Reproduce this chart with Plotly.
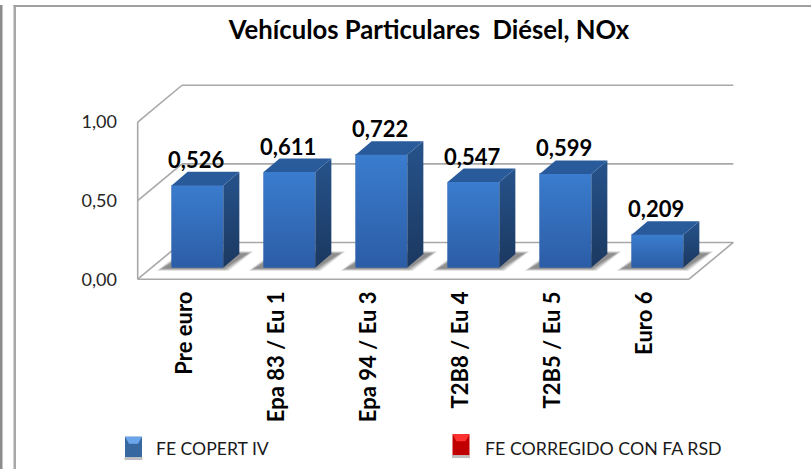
import plotly.graph_objects as go

categories = ["Pre euro", "Epa 83 / Eu 1", "Epa 94 / Eu 3", "T2B8 / Eu 4", "T2B5 / Eu 5", "Euro 6"]
values = [0.526, 0.611, 0.722, 0.547, 0.599, 0.209]
value_labels = ["0,526", "0,611", "0,722", "0,547", "0,599", "0,209"]
y_ticks = [0.0, 0.5, 1.0]
y_tick_labels = ["0,00", "0,50", "1,00"]
series_names = ["FE COPERT IV", "FE CORREGIDO CON FA RSD"]

W, H = 811, 472
FONT = "Lato"
X_PX = 92.0          # pixels per category
Y_PX = 158.2         # pixels per unit on the front plane
Y2_PX = 157.1        # pixels per unit on the bar plane
LEFT, RIGHT, TOP, BOTTOM = 130.0, 745.0, 70.0, 288.0
X0, Y0 = 185.0, 281.0        # front plane origin
X20, Y20 = 197.5, 269.2      # bar plane origin
BAR_W = 51.7 / X_PX
DX, DY = 16 / X_PX, 13.6 / Y2_PX      # bar depth
BX, BY = 44.3 / X_PX, 37 / Y_PX       # wall depth
GRID = "#a8a8a8"

x_front_l = (137.7 - X0) / X_PX
x_front_r = (689 - X0) / X_PX

fig = go.Figure()
idx = list(range(len(categories)))

# front faces
fig.add_trace(go.Bar(x=idx, y=values, width=BAR_W, xaxis="x2", yaxis="y2",
                     marker=dict(color="#3268ae", line=dict(color="#2c5a96", width=0.5)),
                     name=series_names[0], showlegend=False, hoverinfo="skip"))

def face(xs, ys, top, bottom):
    fig.add_trace(go.Scatter(x=xs, y=ys, xaxis="x2", yaxis="y2", mode="lines", fill="toself",
                             line=dict(width=0), hoverinfo="skip", showlegend=False,
                             fillgradient=dict(type="vertical", colorscale=[[0, bottom], [1, top]])))

for i, v in zip(idx, values):
    l, r = i - BAR_W / 2, i + BAR_W / 2
    face([l, r, r, l, l], [0, 0, v, v, 0], "#3a7cce", "#2c5da6")
    face([r, r + DX, r + DX, r, r], [0, DY, v + DY, v, 0], "#26538b", "#1b3860")
    face([l, r, r + DX, l + DX, l], [v, v, v + DY, v + DY, v], "#2a5c9c", "#28599a")

shapes = []
# walls and floor, front plane coordinates
for t in y_ticks:
    shapes.append(dict(type="line", xref="x", yref="y", x0=x_front_l, y0=t, x1=x_front_l + BX, y1=t + BY,
                       line=dict(color=GRID, width=1.6), layer="below"))
    shapes.append(dict(type="line", xref="x", yref="y", x0=x_front_l + BX, y0=t + BY, x1=x_front_r + BX, y1=t + BY,
                       line=dict(color=GRID, width=1.6), layer="below"))
shapes.append(dict(type="line", xref="x", yref="y", x0=x_front_l, y0=0, x1=x_front_l, y1=1,
                   line=dict(color=GRID, width=1.6), layer="below"))
shapes.append(dict(type="line", xref="x", yref="y", x0=x_front_l, y0=0, x1=x_front_r, y1=0,
                   line=dict(color=GRID, width=1.6), layer="below"))
shapes.append(dict(type="line", xref="x", yref="y", x0=x_front_r, y0=0, x1=x_front_r + BX, y1=BY,
                   line=dict(color=GRID, width=1.6), layer="below"))

# bar shadows on the floor
for i in idx:
    for grow, op in ((3.5, 0.14), (2, 0.2), (0.5, 0.28), (-1.5, 0.35)):
        gy = grow / Y2_PX
        pts = [(i + (-37.5 - grow) / X_PX, -0.012 - gy * 0.4),
               (i + (28 + grow) / X_PX, -0.012 - gy * 0.4),
               (i + (52.5 + grow) / X_PX, 0.095 + gy * 0.4),
               (i + (-12 - grow) / X_PX, 0.095 + gy * 0.4)]
        path = "M " + " L ".join(f"{a},{b}" for a, b in pts) + " Z"
        shapes.append(dict(type="path", xref="x2", yref="y2", path=path,
                           fillcolor=f"rgba(90,90,90,{op})", line=dict(width=0), layer="below"))

def px(x): return x / W
def py(y): return 1 - y / H

# page frame
shapes.append(dict(type="rect", xref="paper", yref="paper", x0=0, x1=px(2.5), y0=0, y1=py(5),
                   fillcolor="#8c8c8c", line=dict(width=0), layer="below"))
shapes.append(dict(type="rect", xref="paper", yref="paper", x0=px(13.5), x1=px(16), y0=0, y1=py(5),
                   fillcolor="#a8a8a8", line=dict(width=0), layer="below"))
shapes.append(dict(type="rect", xref="paper", yref="paper", x0=px(13.5), x1=1, y0=py(7), y1=py(5),
                   fillcolor="#a0a0a0", line=dict(width=0), layer="below"))

# legend keys
def key(x, color, light, top, bot):
    shapes.append(dict(type="rect", xref="paper", yref="paper", x0=px(x - 0.5), x1=px(x + 17.5),
                       y0=py(bot + 3), y1=py(bot), fillcolor="#c0c0c0", line=dict(width=0)))
    shapes.append(dict(type="rect", xref="paper", yref="paper", x0=px(x), x1=px(x + 17),
                       y0=py(bot), y1=py(top), fillcolor=color, line=dict(width=0)))
    path = f"M {px(x)},{py(top)} L {px(x + 17)},{py(top)} L {px(x + 13)},{py(top + 7)} L {px(x + 4)},{py(top + 7)} Z"
    shapes.append(dict(type="path", xref="paper", yref="paper", path=path, fillcolor=light, line=dict(width=0)))

key(125, "#37689f", "#6ba6ec", 439.5, 460)
key(452.5, "#c00000", "#ff3030", 437, 458)

annotations = []
for i, v, t in zip(idx, values, value_labels):
    annotations.append(dict(x=i, y=v, xref="x2", yref="y2", text=f"<b>{t}</b>", showarrow=False,
                            xshift=-2, yshift=26, font=dict(family=FONT, size=22, color="#000000")))
annotations.append(dict(x=px(154), y=py(451), xref="paper", yref="paper", xanchor="left", yanchor="middle",
                        text=series_names[0], showarrow=False, font=dict(family=FONT, size=17.6, color="#1a1a1a")))
annotations.append(dict(x=px(483), y=py(451), xref="paper", yref="paper", xanchor="left", yanchor="middle",
                        text=series_names[1], showarrow=False, font=dict(family=FONT, size=17.8, color="#1a1a1a")))

fig.update_layout(
    width=W, height=H, autosize=False, margin=dict(l=0, r=0, t=0, b=0),
    paper_bgcolor="white", plot_bgcolor="rgba(0,0,0,0)", showlegend=False,
    title=dict(text="<b>Vehículos Particulares  Diésel, NOx</b>", x=429 / W, xanchor="center", y=1 - 30 / H,
               yanchor="middle", font=dict(family=FONT, size=25.7, color="#000000")),
    shapes=shapes, annotations=annotations, bargap=0,
    xaxis=dict(domain=[LEFT / W, RIGHT / W], range=[(LEFT - X0) / X_PX, (RIGHT - X0) / X_PX],
               tickvals=idx, ticktext=[f"<b>{c}</b>" for c in categories], tickangle=-90, ticks="",
               showgrid=False, zeroline=False, showline=False, ticklabelstandoff=0,
               tickfont=dict(family=FONT, size=22, color="#000000"), anchor="y"),
    yaxis=dict(domain=[1 - BOTTOM / H, 1 - TOP / H], range=[(Y0 - BOTTOM) / Y_PX, (Y0 - TOP) / Y_PX],
               tickvals=y_ticks, ticktext=y_tick_labels, ticks="", showgrid=False, zeroline=False,
               showline=False, ticklabelstandoff=12,
               tickfont=dict(family=FONT, size=18, color="#262626"), anchor="x"),
    xaxis2=dict(domain=[LEFT / W, RIGHT / W], range=[(LEFT - X20) / X_PX, (RIGHT - X20) / X_PX],
                overlaying="x", visible=False, anchor="y2"),
    yaxis2=dict(domain=[1 - BOTTOM / H, 1 - TOP / H], range=[(Y20 - BOTTOM) / Y2_PX, (Y20 - TOP) / Y2_PX],
                overlaying="y", visible=False, anchor="x2"),
)

fig.write_html("out.html", post_script="document.body.style.margin='0';document.documentElement.style.overflow='hidden';",
               config={"displayModeBar": False})
